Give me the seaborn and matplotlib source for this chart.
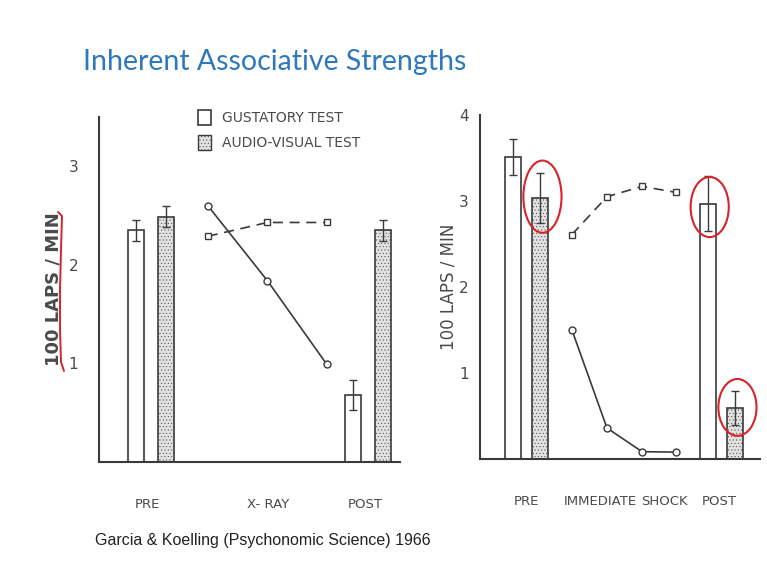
import numpy as np
import pandas as pd
import seaborn as sns
import matplotlib.pyplot as plt
from matplotlib.patches import Patch, Ellipse
from matplotlib.lines import Line2D

# ---- data ----
tests = ['Gustatory', 'Audio-visual']

left_groups = ['PRE', 'POST']
left_gust = [2.35, 0.68]
left_gust_err = [0.11, 0.15]
left_av = [2.49, 2.35]
left_av_err = [0.11, 0.11]
left_line_gust = [2.60, 1.84, 0.99]
left_line_av = [2.29, 2.43, 2.43]

right_groups = ['PRE', 'POST']
right_gust = [3.51, 2.97]
right_gust_err = [0.21, 0.32]
right_av = [3.04, 0.59]
right_av_err = [0.29, 0.20]
right_line_gust = [1.50, 0.36, 0.085, 0.08]
right_line_av = [2.61, 3.05, 3.17, 3.10]

left_xlabels = ['PRE', 'X- RAY', 'POST']
right_xlabels = ['PRE', 'IMMEDIATE', 'SHOCK', 'POST']

ink = '#3a3a3a'
label_ink = '#4a4a4a'
stipple = '#e2e2e2'
red = '#d8232a'

sns.set_style('white')
plt.rcParams['hatch.linewidth'] = 0.3


def panel(ax, groups, centers, dx, gust, gust_err, av, av_err,
          line_x, line_gust, line_av, xmax, ymax, label_pos, labels, bar_w):
    pos, val, err, hue = [], [], [], []
    for c, g, ge, a, ae in zip(centers, gust, gust_err, av, av_err):
        pos += [c - dx, c + dx]
        val += [g, a]
        err += [ge, ae]
        hue += tests
    df = pd.DataFrame({'x': pos, 'y': val, 'test': hue})
    sns.barplot(data=df, x='x', y='y', hue='test', native_scale=True,
                dodge=False, width=bar_w, errorbar=None, legend=False,
                palette={'Gustatory': 'white', 'Audio-visual': stipple},
                edgecolor=ink, linewidth=1.2, ax=ax)
    for p in ax.patches:
        if p.get_facecolor()[0] < 0.95:
            p.set_hatch('.....')
    ax.errorbar(pos, val, yerr=err, fmt='none', ecolor=ink,
                elinewidth=1.0, capsize=3, capthick=1.0, zorder=5)
    sns.lineplot(x=line_x, y=line_gust, ax=ax, color=ink, lw=1.2,
                 marker='o', markersize=5, markerfacecolor='white',
                 markeredgecolor=ink, markeredgewidth=1.0, sort=False)
    sns.lineplot(x=line_x, y=line_av, ax=ax, color=ink, lw=1.2,
                 linestyle=(0, (6, 4)), marker='s', markersize=4.5,
                 markerfacecolor='white', markeredgecolor=ink,
                 markeredgewidth=1.0, sort=False)
    ax.set_xlim(0, xmax)
    ax.set_ylim(0, ymax)
    for s in ['top', 'right']:
        ax.spines[s].set_visible(False)
    for s in ['left', 'bottom']:
        ax.spines[s].set_color(ink)
        ax.spines[s].set_linewidth(1.5)
    ax.set_yticks(np.arange(1, int(ymax) + 1))
    ax.set_yticks(np.arange(0.5, ymax, 1.0), minor=True)
    ax.tick_params(axis='y', which='both', direction='in', length=4,
                   width=1.2, color=ink, labelsize=11, labelcolor=label_ink)
    ax.set_xticks(label_pos, labels)
    ax.set_xticks(line_x, minor=True)
    ax.tick_params(axis='x', which='major', length=0, pad=26,
                   labelsize=9.5, labelcolor=label_ink)
    ax.tick_params(axis='x', which='minor', direction='in', length=4,
                   width=1.2, color=ink)
    ax.set_xlabel('')
    ax.set_ylabel('')


fig = plt.figure(figsize=(7.67, 5.74), dpi=100)
fig.patch.set_facecolor('white')

axl = fig.add_axes([99 / 767, 1 - 462 / 574, 301 / 767, 345 / 574])
panel(axl, left_groups, [0.87, 4.52], 0.255, left_gust, left_gust_err,
      left_av, left_av_err, [1.83, 2.83, 3.83], left_line_gust, left_line_av,
      5.06, 3.5, [0.81, 2.84, 4.47], left_xlabels, 0.27 / 0.51)
axl.tick_params(axis='y', which='major', pad=15)
axl.set_ylabel('100 LAPS / MIN', fontsize=13, fontweight='bold',
               color=label_ink, labelpad=4)

axr = fig.add_axes([480 / 767, 1 - 459 / 574, 280 / 767, 344 / 574])
panel(axr, right_groups, [1.34, 6.97], 0.39, right_gust, right_gust_err,
      right_av, right_av_err, [2.65, 3.66, 4.67, 5.65], right_line_gust,
      right_line_av, 8.07, 4.0, [1.35, 3.46, 5.33, 6.89], right_xlabels,
      0.46 / 0.78)
axr.tick_params(axis='y', which='major', pad=8)
axr.set_ylabel('100 LAPS / MIN', fontsize=12, color=label_ink, labelpad=1)

# legend
handles = [Patch(facecolor='white', edgecolor=ink, lw=1.2),
           Patch(facecolor=stipple, edgecolor=ink, lw=1.0, hatch='.....')]
leg = fig.legend(handles, ['GUSTATORY TEST', 'AUDIO-VISUAL TEST'],
                 loc='upper left', bbox_to_anchor=(185 / 767, 1 - 97 / 574),
                 frameon=False, fontsize=10, handlelength=1.0,
                 handleheight=1.3, handletextpad=0.8, labelspacing=0.75,
                 labelcolor=label_ink)

# hand-drawn red marks
for cx, cy, w, h in [(1.8, 3.05, 1.1, 0.84), (6.62, 2.93, 1.1, 0.7),
                     (7.42, 0.6, 1.1, 0.66)]:
    axr.add_patch(Ellipse((cx, cy), w, h, fill=False, ec=red, lw=1.5,
                          clip_on=False, zorder=6))
fig.add_artist(Line2D(np.array([58, 62, 61, 60, 60, 61, 64]) / 767,
                      1 - np.array([212, 216, 250, 290, 330, 362, 371]) / 574,
                      color=red, lw=1.4))

fig.text(83 / 767, 1 - 62 / 574, 'Inherent Associative Strengths',
         fontsize=20.5, family='Lato', color='#2e78bd', va='center')
fig.text(95 / 767, 1 - 540 / 574,
         'Garcia & Koelling (Psychonomic Science) 1966',
         fontsize=11.5, family='Liberation Sans', color='#222222', va='center')

fig.savefig('out.png', dpi=100)
